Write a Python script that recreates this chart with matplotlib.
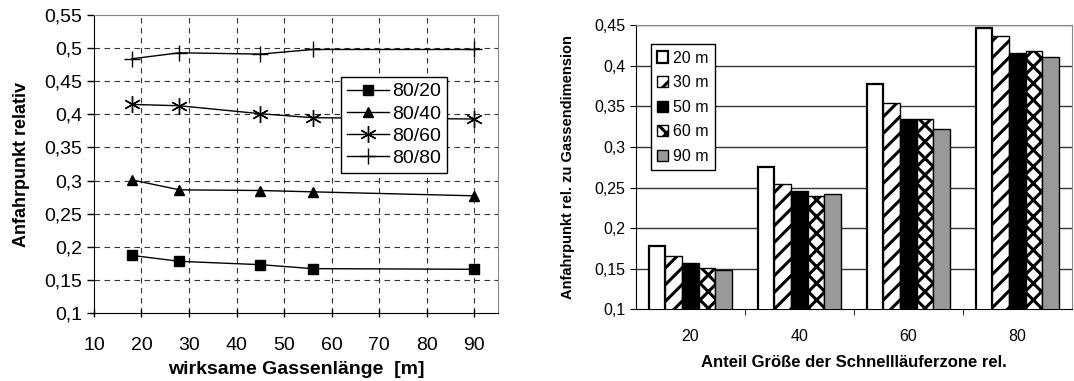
import matplotlib
matplotlib.use('Agg')
import matplotlib.pyplot as plt
import numpy as np
from matplotlib.ticker import FuncFormatter, MultipleLocator

plt.rcParams['font.family'] = ['Liberation Sans', 'DejaVu Sans']
plt.rcParams['hatch.linewidth'] = 2.2

# linkes Diagramm
gassen_len = [18, 28, 45, 56, 90]
s80_20 = [0.187, 0.178, 0.173, 0.167, 0.166]
s80_40 = [0.301, 0.286, 0.285, 0.283, 0.277]
s80_60 = [0.415, 0.413, 0.401, 0.395, 0.393]
s80_80 = [0.484, 0.493, 0.491, 0.498, 0.498]
line_labels = ['80/20', '80/40', '80/60', '80/80']

# rechtes Diagramm
categories = ['20', '40', '60', '80']
bar_labels = ['20 m', '30 m', '50 m', '60 m', '90 m']
b20 = [0.178, 0.275, 0.377, 0.447]
b30 = [0.166, 0.254, 0.354, 0.437]
b50 = [0.157, 0.246, 0.335, 0.416]
b60 = [0.151, 0.240, 0.335, 0.418]
b90 = [0.148, 0.242, 0.322, 0.411]


def komma(v, pos):
  s = ('%.2f' % v).rstrip('0').rstrip('.')
  return s.replace('.', ',')


fig = plt.figure(figsize=(10.74, 3.81), dpi=100)

# ---- links ----
ax1 = fig.add_axes([0.0875, 0.1785, 0.376, 0.782])
markers = ['s', '^', (6, 2, 0), '+']
sizes = [7.5, 7.5, 12, 12]
for ys, lab, m, ms in zip([s80_20, s80_40, s80_60, s80_80], line_labels, markers, sizes):
  ax1.plot(gassen_len, ys, color='black', linewidth=1.0, marker=m, markersize=ms,
           markeredgewidth=1.0, markerfacecolor='black', label=lab, zorder=3)
ax1.set_xlim(10, 95)
ax1.set_ylim(0.1, 0.55)
ax1.set_xticks(range(10, 100, 10))
ax1.yaxis.set_major_locator(MultipleLocator(0.05))
ax1.yaxis.set_major_formatter(FuncFormatter(komma))
for xv in range(20, 100, 10):
  ax1.axvline(xv, color='#333333', linestyle=(0, (5, 4)), linewidth=0.8, zorder=1)
for yv in np.arange(0.15, 0.55, 0.05):
  ax1.axhline(yv, color='#333333', linestyle=(0, (5, 4)), linewidth=0.8, zorder=1)
ax1.spines['top'].set_color('#888888')
ax1.spines['right'].set_color('#888888')
ax1.tick_params(labelsize=14, direction='inout', length=6, width=1)
ax1.tick_params(axis='x', pad=14)
ax1.tick_params(axis='y', direction='out', length=5)
ax1.set_xlabel('wirksame Gassenlänge  [m]', fontsize=14, fontweight='bold', labelpad=5)
ax1.set_ylabel('Anfahrpunkt relativ', fontsize=13, fontweight='bold', labelpad=10)
leg1 = ax1.legend(loc='upper left', bbox_to_anchor=(0.611, 0.792), borderaxespad=0,
                  fontsize=14, handlelength=2.2, fancybox=False, framealpha=1,
                  edgecolor='black', labelspacing=0.24, handletextpad=0.15,
                  borderpad=0.3)
leg1.get_frame().set_linewidth(1.0)

# ---- rechts ----
ax2 = fig.add_axes([0.592, 0.188, 0.406, 0.746])
pos = np.arange(len(categories))
w = 0.152
styles = [
  dict(facecolor='white', hatch=None, linewidth=1.6),
  dict(facecolor='white', hatch='//', linewidth=1.0),
  dict(facecolor='black', hatch=None, linewidth=1.0),
  dict(facecolor='white', hatch='xx', linewidth=1.0),
  dict(facecolor='#999999', hatch=None, linewidth=1.0),
]
for k, (vals, lab, st) in enumerate(zip([b20, b30, b50, b60, b90], bar_labels, styles)):
  ax2.bar(pos + (k - 2) * w, vals, width=w, color=st['facecolor'], edgecolor='black',
          hatch=st['hatch'], linewidth=st['linewidth'], label=lab, zorder=3)
ax2.set_xlim(-0.5, 3.5)
ax2.set_ylim(0.1, 0.45)
ax2.set_xticks(pos)
ax2.set_xticklabels(categories)
ax2.set_xticks([0.5, 1.5, 2.5], minor=True)
ax2.tick_params(axis='x', which='major', length=0, labelsize=11.5, pad=14)
ax2.tick_params(axis='x', which='minor', length=4, direction='out')
ax2.yaxis.set_major_locator(MultipleLocator(0.05))
ax2.yaxis.set_major_formatter(FuncFormatter(komma))
ax2.tick_params(axis='y', labelsize=11.5, length=4, direction='out')
for yv in np.arange(0.15, 0.45, 0.05):
  ax2.axhline(yv, color='#333333', linewidth=1.0, zorder=1)
ax2.spines['top'].set_color('#888888')
ax2.spines['right'].set_color('#888888')
ax2.set_xlabel('Anteil Größe der Schnellläuferzone rel.', fontsize=12,
               fontweight='bold', labelpad=8)
ax2.set_ylabel('Anfahrpunkt rel. zu Gassendimension', fontsize=10.5, fontweight='bold',
               labelpad=14)
leg2 = ax2.legend(loc='upper left', bbox_to_anchor=(0.034, 0.933), borderaxespad=0,
                  fontsize=11.5, handlelength=0.7, handleheight=0.7, fancybox=False,
                  framealpha=1, edgecolor='black', labelspacing=0.6,
                  handletextpad=0.3, borderpad=0.4)
leg2.get_frame().set_linewidth(1.0)

fig.savefig('out.png', dpi=100)
